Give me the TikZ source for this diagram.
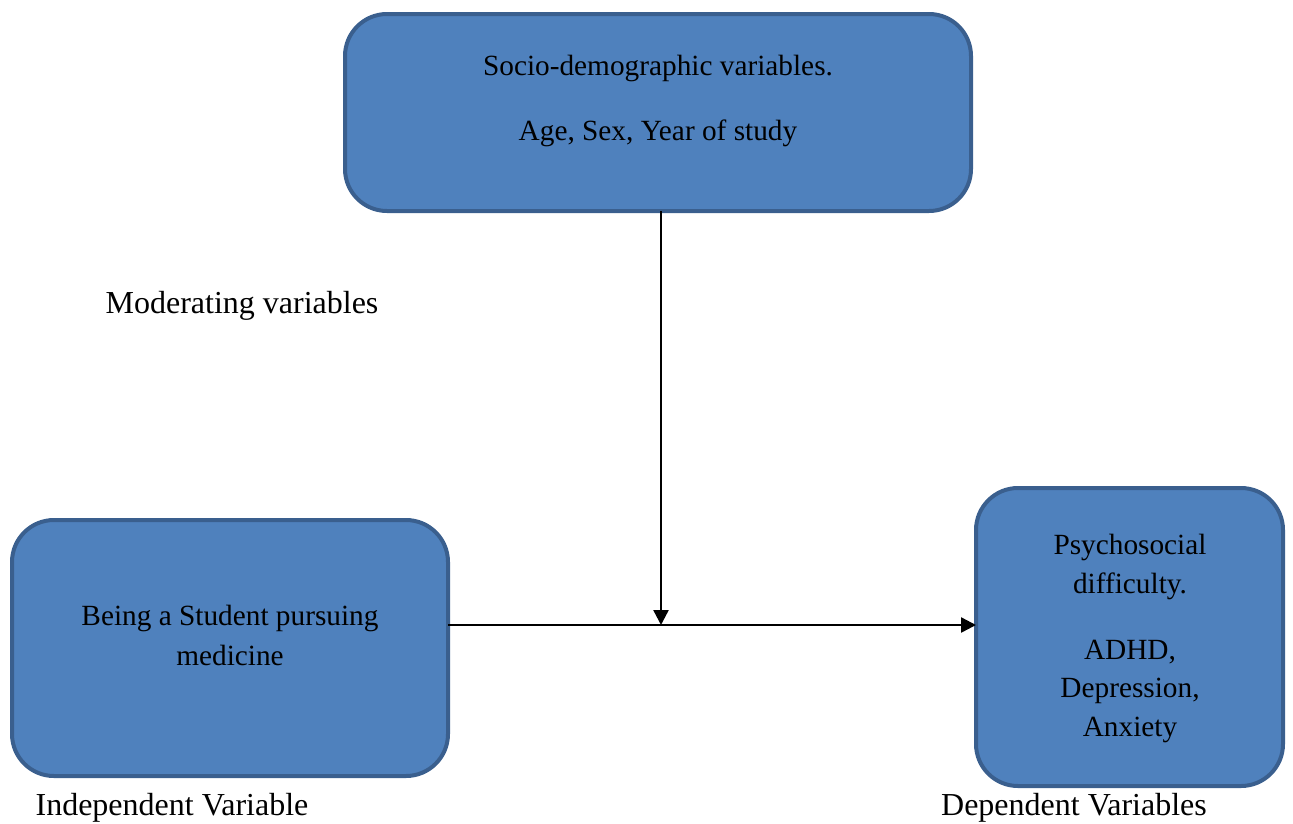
\documentclass[tikz,border=0pt]{standalone}
\usepackage{fontspec}
\setmainfont{Liberation Serif}
\usetikzlibrary{arrows.meta}
\definecolor{boxfill}{HTML}{4F81BD}
\definecolor{boxline}{HTML}{3A5F8E}
\begin{document}
\begin{tikzpicture}[x=1pt,y=-1pt,
  box/.style={draw=boxline,fill=boxfill,line width=4pt,rounded corners=42pt,inner sep=0pt,outer sep=0pt},
  txt/.style={font=\fontsize{29.3}{38.5}\selectfont,align=center,inner sep=0pt},
  lab/.style={font=\fontsize{32}{38}\selectfont,align=center,inner sep=0pt},
  conn/.style={line width=2.4pt,-{Triangle[length=15pt,width=15pt]}}]
\useasboundingbox (0,0) rectangle (1293,823);
\node[box,minimum width=626pt,minimum height=197pt] (socio) at (658,112.5) {};
\node[box,minimum width=436pt,minimum height=256pt] (indep) at (230,648) {};
\node[box,minimum width=307pt,minimum height=298pt] (dep) at (1129.5,637) {};
\node[txt] (sociot) at (658,68) {Socio-demographic variables.};
\node[txt] (sociot2) at (658,133) {Age, Sex, Year of study};
\node[lab] (mod) at (242,306) {Moderating variables};
\node[txt,font=\fontsize{29.3}{40}\selectfont] (indept) at (230,635) {Being a Student pursuing\\medicine};
\node[txt] (dept) at (1130,567) {Psychosocial\\difficulty.};
\node[txt] (dept2) at (1130,691) {ADHD,\\Depression,\\Anxiety};
\node[lab] (indlab) at (172,808) {Independent Variable};
\node[lab] (deplab) at (1074,808) {Dependent Variables};
\coordinate (j) at (661,625);
\draw[conn] (socio.south -| j) -- (j);
\draw[conn] (indep.east |- j) -- (dep.west |- j);
\end{tikzpicture}
\end{document}
